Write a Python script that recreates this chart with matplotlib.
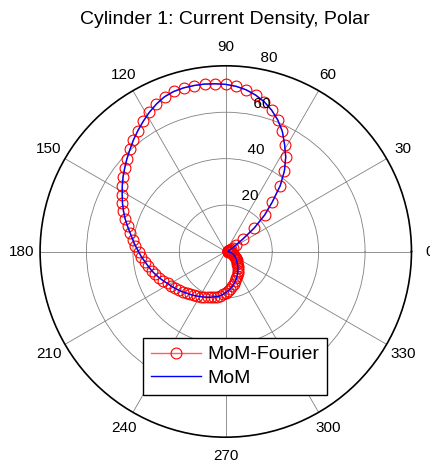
import numpy as np
import matplotlib
matplotlib.use("Agg")
import matplotlib.pyplot as plt

plt.rcParams["font.family"] = ["Liberation Sans", "DejaVu Sans"]

# Sample angles around the cylinder (degrees), one every 3.6 deg
phi_deg = np.arange(0, 360, 3.6)

# |J| on the surface, read at each sample angle
j_fourier = [
    1.0, 1.0, 1.0, 1.0, 1.2, 1.4, 1.8, 2.5, 3.5, 5.0,
    9.0, 16.0, 23.0, 29.3, 36.8, 43.0, 48.2, 52.6, 57.2, 60.9,
    64.0, 66.6, 68.6, 70.2, 71.3, 72.0, 72.4, 72.7, 72.8, 72.8,
    72.5, 71.7, 70.2, 68.4, 66.4, 64.4, 62.4, 60.3, 58.4, 56.5,
    54.7, 52.8, 50.9, 49.2, 47.4, 45.6, 43.7, 41.9, 40.4, 39.0,
    37.6, 36.4, 35.1, 34.0, 33.0, 31.9, 30.8, 29.7, 28.6, 27.8,
    27.0, 26.2, 25.4, 24.6, 24.0, 23.4, 22.8, 22.2, 21.7, 21.2,
    20.7, 20.2, 19.8, 19.2, 18.5, 17.7, 17.0, 16.1, 15.2, 14.3,
    13.4, 12.5, 11.5, 10.6, 9.7, 8.8, 8.0, 7.3, 6.6, 6.0,
    5.5, 5.0, 4.5, 4.1, 3.6, 3.2, 2.7, 2.2, 1.7, 1.3,
]
j_mom = list(j_fourier)

r_max = 80
r_rings = [20, 40, 60, 80]
theta_ticks = list(range(0, 360, 30))

fig = plt.figure(figsize=(4.31, 4.68), dpi=100)
ax = fig.add_axes([0.0930, 0.0658, 0.8617, 0.7936], projection="polar")

theta = np.deg2rad(phi_deg)
ax.plot(theta, j_fourier, color="#ff6060", lw=1.0, marker="o", ms=7.8,
        mfc="none", mec="red", mew=0.8, label="MoM-Fourier")
ax.plot(theta, j_mom, color="blue", lw=1.0, label="MoM")

ax.set_ylim(0, r_max)
ax.set_yticks(r_rings[:-1])
ax.set_yticklabels([])
ax.set_xticks(np.deg2rad(theta_ticks))
ax.set_xticklabels([str(t) for t in theta_ticks], fontsize=11)
ax.tick_params(axis="x", pad=6.4, length=0)
ax.grid(True, color="0.5", lw=0.6)
ax.spines["polar"].set_color("black")
ax.spines["polar"].set_linewidth(1.2)

# radial labels along the 82 degree line, like MATLAB's polar()
for rt in r_rings:
    ax.text(np.deg2rad(82), rt + 1, "  %d" % rt, ha="left", va="bottom",
            fontsize=11)

fig.text(0.522, 1 - 19 / 468, "Cylinder 1: Current Density, Polar",
         ha="center", va="center", fontsize=14)

ax.legend(loc="upper left", bbox_to_anchor=(143 / 431, 1 - 338 / 468),
          bbox_transform=fig.transFigure, fontsize=14, fancybox=False,
          framealpha=1, edgecolor="black", borderpad=0.4, labelspacing=0.3,
          handlelength=2.6, handletextpad=0.3, borderaxespad=0)

fig.savefig("out.png", dpi=100)
